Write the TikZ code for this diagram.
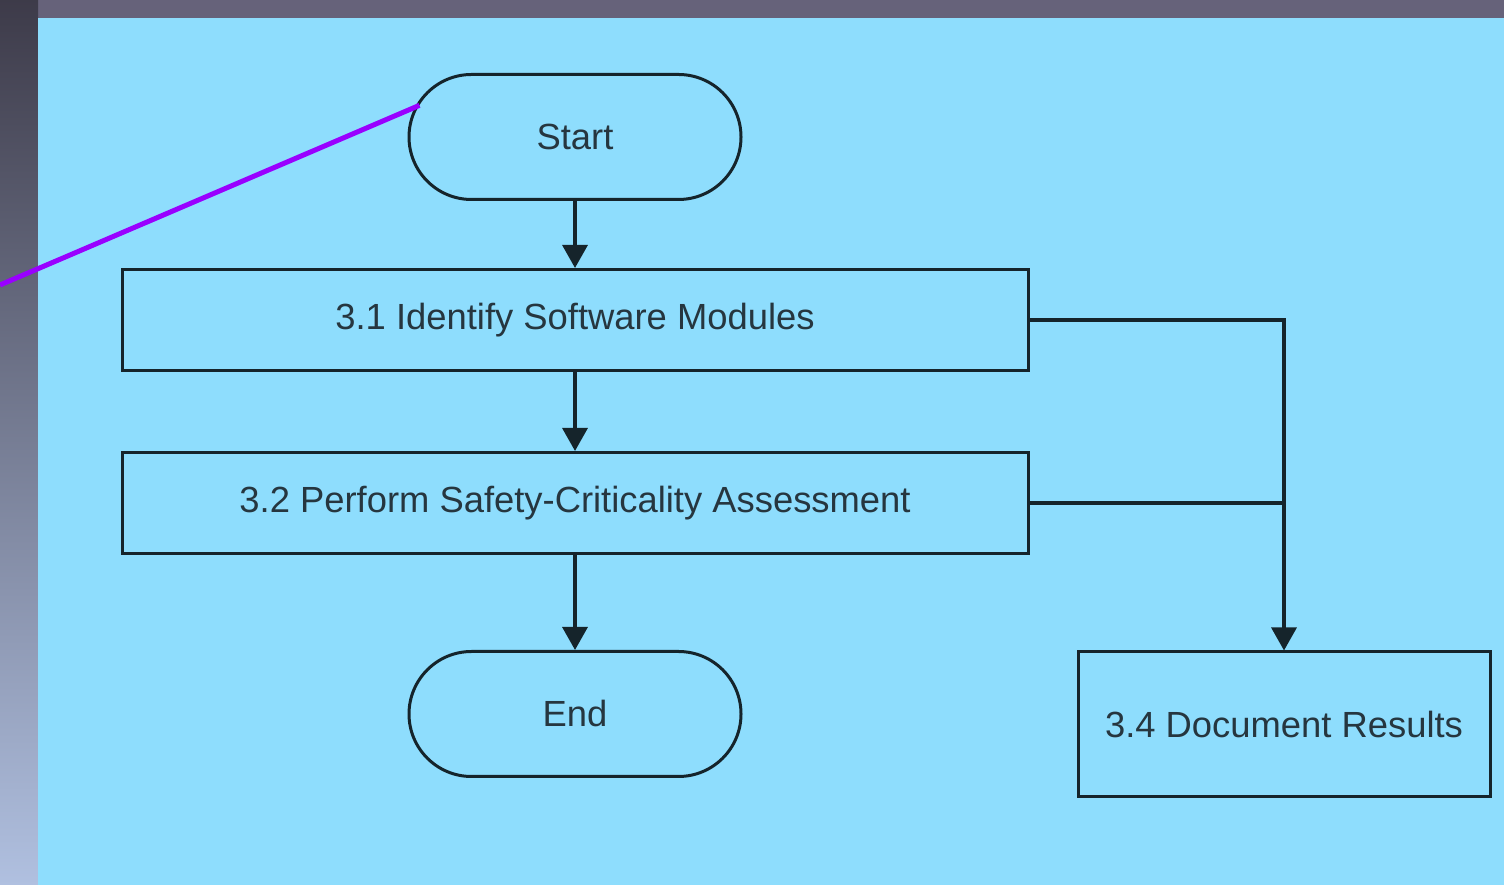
\documentclass[tikz,border=0pt]{standalone}
\usepackage{fontspec}
\setmainfont{Liberation Sans}
\usetikzlibrary{arrows.meta,shapes.misc}
\definecolor{panel}{HTML}{8EDDFD}
\definecolor{frametop}{HTML}{66627A}
\definecolor{txtc}{HTML}{26363F}
\definecolor{linec}{HTML}{15242B}
\definecolor{pointer}{HTML}{9900FF}
\begin{document}
\begin{tikzpicture}[tnode/.style={draw=linec,line width=0.06cm,rounded corners=1.25cm,minimum width=6.64cm,minimum height=2.5cm,text=txtc,font=\fontsize{20.7}{24}\selectfont},
  pnode/.style={draw=linec,line width=0.06cm,minimum width=18.12cm,minimum height=2.02cm,text=txtc,font=\fontsize{20.7}{24}\selectfont},
  >={Triangle[length=0.46cm,width=0.5cm]}]
    \useasboundingbox (0,0) rectangle (30.08,17.7);
    % backdrop
    \fill[frametop] (0,17.34) rectangle (30.08,17.7);
    \shade[top color=frametop!60!black, middle color={rgb,255:red,112;green,120;blue,150}, bottom color={rgb,255:red,176;green,192;blue,224}] (0,0) rectangle (0.76,17.7);
    \fill[panel] (0.76,0) rectangle (30.08,17.34);

    \node[tnode] (start) at (11.5,14.96) {Start};
    \node[pnode] (b31) at (11.5,11.3) {3.1 Identify Software Modules};
    \node[pnode] (b32) at (11.5,7.64) {3.2 Perform Safety-Criticality Assessment};
    \node[tnode] (end) at (11.5,3.42) {End};
    \node[draw=linec,line width=0.06cm,minimum width=8.24cm,minimum height=2.9cm,text=txtc,font=\fontsize{20.7}{24}\selectfont] (b34) at (25.68,3.21) {3.4 Document Results};
    \coordinate (ptr) at (0,12.0);

    \begin{scope}[draw=linec,line width=0.065cm]
    \draw[->] (start) edge (b31) ;
    \draw[->] (b31) edge (b32) ;
    \draw[->] (b32) edge (end) ;
    \draw[->] (b31.east) -| (b34.north) ;
    \draw (b32.east) -- (b32.east -| b34.north) ;
    \end{scope}

    \draw[pointer,line width=0.1cm,shorten >=-0.26cm] (ptr) -- (start.171) ;
\end{tikzpicture}
\end{document}
